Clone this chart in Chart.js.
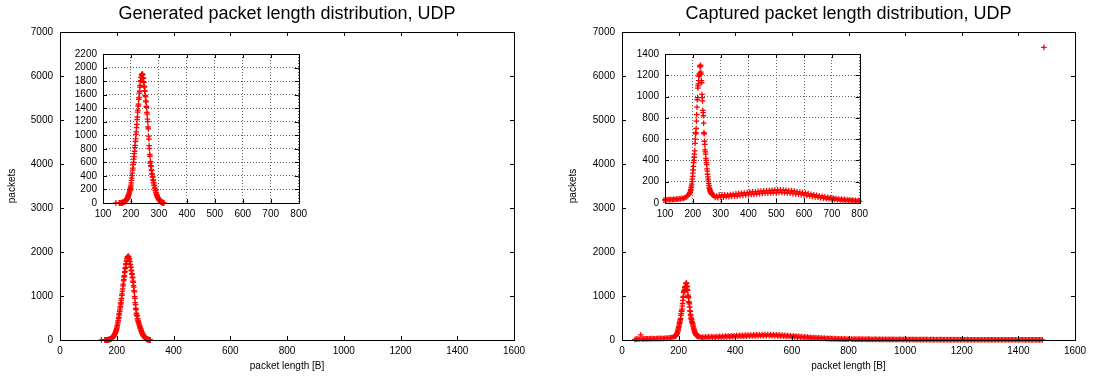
<!DOCTYPE html>
<html>
<head>
<meta charset="utf-8">
<title>UDP packet length distribution</title>
<script src="https://cdn.jsdelivr.net/npm/chart.js@4.4.1/dist/chart.umd.min.js"></script>
<style>
  html, body { margin: 0; padding: 0; background: #fff; }
  body { position: relative; width: 1095px; height: 378px; overflow: hidden; }
  canvas { position: absolute; }
</style>
</head>
<body>
<canvas id="genMain" width="547" height="378" style="left:0px;top:0px"></canvas>
<canvas id="genInset" width="249" height="183" style="left:63px;top:42px"></canvas>
<canvas id="capMain" width="535" height="378" style="left:560px;top:0px"></canvas>
<canvas id="capInset" width="248" height="183" style="left:625px;top:42px"></canvas>
<script>
// ---- Dados ----
// Generated: um valor por byte a partir de 158 B
const GEN_FROM = 158;
const genCounts = [
  1, 0, 1, 2, 2, 1, 3, 2, 4, 3,
  5, 6, 7, 8, 10, 12, 13, 15, 18, 20,
  22, 27, 30, 33, 39, 43, 49, 54, 63, 69,
  80, 88, 100, 108, 122, 134, 150, 164, 182, 198,
  218, 236, 265, 296, 334, 366, 405, 440, 486, 515,
  568, 598, 648, 684, 728, 764, 818, 852, 908, 948,
  1012, 1050, 1112, 1160, 1232, 1270, 1342, 1372, 1432, 1460,
  1532, 1560, 1622, 1650, 1712, 1738, 1792, 1808, 1852, 1858,
  1892, 1884, 1908, 1896, 1898, 1852, 1840, 1790, 1782, 1724,
  1712, 1656, 1652, 1588, 1572, 1508, 1494, 1428, 1412, 1338,
  1312, 1238, 1202, 1122, 1094, 988, 944, 848, 802, 718,
  690, 590, 612, 552, 542, 488, 480, 432, 426, 388,
  382, 342, 336, 302, 296, 262, 256, 224, 220, 190,
  184, 158, 152, 132, 126, 108, 102, 86, 84, 72,
  68, 56, 54, 44, 42, 34, 32, 25, 24, 18,
  17, 13, 12, 9, 9, 6, 6, 4, 4, 3,
  2
];
const genStrayLen = [146];
const genStrayCount = [2];

// Captured: trechos com passo diferente
const CAP_LOW_FROM = 46, CAP_LOW_STEP = 5;
const capLow = [15, 20, 24, 22, 115, 26, 24, 28, 25, 30, 27, 31, 28, 33, 30, 34, 31, 36, 33, 38,
  35, 40, 38, 44, 42, 50, 55, 68, 82];

const CAP_PEAK_FROM = 188, CAP_PEAK_STEP = 1;
const capPeak = [
  85, 92, 98, 105, 118, 128, 145, 160, 178, 200,
  225, 250, 280, 310, 345, 380, 400, 430, 460, 490,
  560, 600, 650, 660, 700, 770, 830, 900, 970, 990,
  1080, 1100, 1120, 1150, 1190, 1210, 1200, 1220, 1280, 1295,
  1290, 1230, 1210, 1150, 1130, 1020, 990, 960, 870, 850,
  820, 750, 660, 650, 580, 550, 500, 480, 460, 420,
  400, 380, 360, 320, 300, 270, 245, 225, 205, 185,
  165, 150, 138, 126, 118, 110, 104, 98, 94, 90,
  86, 82, 80
];

const CAP_MID_FROM = 275, CAP_MID_STEP = 5;
const capMid = [
  72, 52, 66, 50, 74, 56, 76, 54, 78, 60,
  74, 60, 80, 62, 82, 64, 86, 66, 90, 70,
  92, 72, 94, 76, 98, 78, 102, 80, 106, 82,
  106, 84, 110, 88, 112, 90, 114, 92, 116, 92,
  118, 94, 120, 96, 122, 96, 124, 98, 124, 98,
  122, 96, 120, 94, 118, 92, 116, 88, 112, 86,
  106, 82, 102, 78, 98, 74, 94, 70, 88, 66,
  82, 62, 78, 58, 72, 54, 68, 50, 64, 46,
  58, 42, 54, 40, 50, 36, 46, 34, 42, 30,
  38, 28, 36, 26, 34, 24, 32, 22, 30, 20,
  28, 18, 26, 17, 24, 16
];

const CAP_TAIL_FROM = 810, CAP_TAIL_STEP = 5;
const capTail = [
  22, 18, 20, 16, 21, 17, 19, 15, 20, 16,
  18, 14, 19, 15, 17, 13, 18, 14, 16, 13,
  17, 12, 15, 13, 16, 11, 14, 12, 15, 11,
  14, 10, 13, 11, 14, 10, 12, 10, 13, 9,
  12, 9, 11, 10, 12, 8, 11, 9, 11, 8,
  10, 8, 11, 9, 10, 7, 10, 8, 9, 7,
  10, 7, 9, 8, 9, 7, 9, 6, 8, 7,
  9, 6, 8, 7, 8, 6, 8, 6, 8, 6,
  7, 6, 8, 5, 7, 6, 7, 5, 7, 6,
  7, 5, 6, 5, 7, 5, 6, 5, 6, 5,
  6, 4, 6, 5, 6, 4, 6, 5, 5, 4,
  6, 4, 5, 4, 6, 4, 5, 4, 5, 4,
  5, 4, 5, 3, 5, 4, 5, 3, 5, 4,
  5, 3, 4, 3, 5, 4
];
const capSpikeLen = [1490];
const capSpikeCount = [6650];

// Eixos
const mainXTicks = { min: 0, max: 1600, step: 200 };
const mainYTicks = { min: 0, max: 7000, step: 1000 };
const insetXTicks = { min: 100, max: 800, step: 100 };
const genInsetYTicks = { min: 0, max: 2200, step: 200 };
const capInsetYTicks = { min: 0, max: 1400, step: 200 };

// ---- Montagem ----
function toPoints(from, step, counts) {
  return counts.map((c, i) => ({ x: from + i * step, y: c }));
}

const genPoints = toPoints(GEN_FROM, 1, genCounts)
  .concat(genStrayLen.map((l, i) => ({ x: l, y: genStrayCount[i] })));

const capPoints = [].concat(
  toPoints(CAP_LOW_FROM, CAP_LOW_STEP, capLow),
  toPoints(CAP_PEAK_FROM, CAP_PEAK_STEP, capPeak),
  toPoints(CAP_MID_FROM, CAP_MID_STEP, capMid),
  toPoints(CAP_TAIL_FROM, CAP_TAIL_STEP, capTail),
  capSpikeLen.map((l, i) => ({ x: l, y: capSpikeCount[i] }))
);

Chart.defaults.font.family = "'Liberation Sans', Arial, Helvetica, sans-serif";
Chart.defaults.font.size = 10;
Chart.defaults.color = '#000';

// moldura com ticks para dentro (estilo gnuplot)
const frameTicks = {
  id: 'frameTicks',
  afterDatasetsDraw(chart) {
    const { ctx, chartArea: a, scales: { x, y } } = chart;
    const L = 4;
    ctx.save();
    ctx.strokeStyle = '#000';
    ctx.lineWidth = 1;
    ctx.beginPath();
    x.ticks.forEach(t => {
      const px = Math.round(x.getPixelForValue(t.value)) + 0.5;
      ctx.moveTo(px, a.bottom); ctx.lineTo(px, a.bottom - L);
      ctx.moveTo(px, a.top); ctx.lineTo(px, a.top + L);
    });
    y.ticks.forEach(t => {
      const py = Math.round(y.getPixelForValue(t.value)) + 0.5;
      ctx.moveTo(a.left, py); ctx.lineTo(a.left + L, py);
      ctx.moveTo(a.right, py); ctx.lineTo(a.right - L, py);
    });
    ctx.stroke();
    ctx.strokeRect(Math.round(a.left) + 0.5, Math.round(a.top) + 0.5,
      Math.round(a.right - a.left), Math.round(a.bottom - a.top));
    ctx.restore();
  }
};

function dataset(points, clip) {
  return {
    data: points,
    showLine: false,
    pointStyle: 'cross',
    pointRadius: 2.8,
    pointHoverRadius: 2.8,
    pointBorderWidth: 1.3,
    pointBorderColor: '#ff0000',
    pointBackgroundColor: '#ff0000',
    clip: clip
  };
}

function linScale(t, extra) {
  return Object.assign({
    type: 'linear',
    min: t.min, max: t.max,
    ticks: { stepSize: t.step, autoSkip: false, maxRotation: 0, color: '#000',
      callback: v => String(v) },
    grid: { display: false, drawTicks: false },
    border: { display: false }
  }, extra);
}

function mainChart(id, points, title, yWidth, yTitlePad, padRight) {
  const xs = linScale(mainXTicks, {
    title: { display: true, text: 'packet length [B]', color: '#000', padding: { top: 0, bottom: 6 } },
    afterFit: s => { s.height = 38; }
  });
  xs.ticks.padding = 5;
  const ys = linScale(mainYTicks, {
    title: { display: true, text: 'packets', color: '#000', padding: { top: yTitlePad, bottom: 0 } },
    afterFit: s => { s.width = yWidth; }
  });
  ys.ticks.padding = 7;
  return new Chart(document.getElementById(id), {
    type: 'scatter',
    data: { datasets: [dataset(points, 3)] },
    options: {
      responsive: false, animation: false, events: [],
      layout: { padding: { left: 0, right: padRight, top: 0, bottom: 0 } },
      plugins: {
        legend: { display: false }, tooltip: { enabled: false },
        title: { display: true, text: title, fullSize: false, color: '#000',
          font: { size: 18, weight: 'normal' }, padding: { top: 3, bottom: 7.4 } }
      },
      scales: { x: xs, y: ys }
    },
    plugins: [frameTicks]
  });
}

function insetChart(id, points, yTicks) {
  const dotted = { display: true, drawTicks: false, color: '#666', lineWidth: 1 };
  const xs = linScale(insetXTicks, { grid: dotted, border: { display: false, dash: [1, 2] },
    afterFit: s => { s.height = 22; } });
  xs.ticks.padding = 5;
  const ys = linScale(yTicks, { grid: dotted, border: { display: false, dash: [1, 2] },
    afterFit: s => { s.width = 40; } });
  ys.ticks.padding = 6;
  return new Chart(document.getElementById(id), {
    type: 'scatter',
    data: { datasets: [dataset(points, 3)] },
    options: {
      responsive: false, animation: false, events: [],
      layout: { padding: { left: 0, right: 10, top: 8, bottom: 0 } },
      plugins: { legend: { display: false }, tooltip: { enabled: false } },
      scales: { x: xs, y: ys }
    },
    plugins: [frameTicks]
  });
}

mainChart('genMain', genPoints, 'Generated packet length distribution, UDP', 60, 6, 33);
insetChart('genInset', genPoints, genInsetYTicks);
mainChart('capMain', capPoints, 'Captured packet length distribution, UDP', 62, 7.5, 20);
insetChart('capInset', capPoints, capInsetYTicks);
</script>
</body>
</html>
